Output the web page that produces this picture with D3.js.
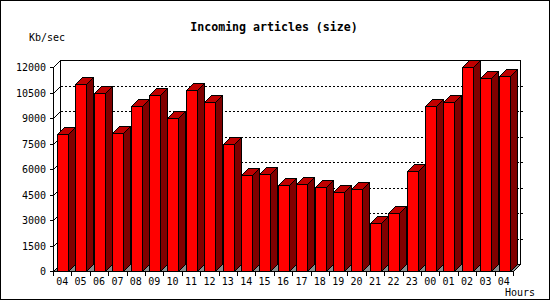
<!DOCTYPE html>
<html>
<head>
<meta charset="utf-8">
<script src="https://cdn.jsdelivr.net/npm/d3@7"></script>
<style>
    body { margin: 0; background: #fff; }
    text { font-family: 'DejaVu Sans Mono', monospace; fill: #000; }
</style>
</head>
<body>
<div id="chart"></div>
<script>
// Hours of the day (x categories)
const hours = ['04', '05', '06', '07', '08', '09', '10', '11', '12', '13', '14', '15', '16',
    '17', '18', '19', '20', '21', '22', '23', '00', '01', '02', '03', '04'];
// Incoming size in Kb/sec
const sizes = [8050, 11000, 10450, 8100, 9700, 10350, 9000, 10650, 9950, 7500, 5650, 5700, 5050,
    5100, 4950, 4650, 4800, 2850, 3400, 5900, 9700, 9950, 12000, 11350, 11500];
const yTicks = [0, 1500, 3000, 4500, 6000, 7500, 9000, 10500, 12000];

const width = 550;
const height = 300;
const plot = { left: 53, right: 513, top: 67, bottom: 271 }; // front face of the plot box
const depth = 7; // 3d offset, right and up

const svg = d3.select('#chart')
    .append('svg')
    .attr('width', width)
    .attr('height', height);

// outer frame
svg.append('rect')
    .attr('x', 0.5).attr('y', 0.5)
    .attr('width', width - 1).attr('height', height - 1)
    .attr('fill', '#fff')
    .attr('stroke', '#000')
    .attr('shape-rendering', 'crispEdges');

const x = d3.scaleBand()
    .domain(d3.range(hours.length))
    .range([plot.left, plot.right]);

const y = d3.scaleLinear()
    .domain([0, 12000])
    .range([plot.bottom, plot.top]);

const px = v => Math.round(v) + 0.5;

// back wall and right edge
const back = svg.append('g').attr('shape-rendering', 'crispEdges');
back.append('path')
    .attr('d', `M${px(plot.left + depth)},${px(plot.bottom - depth)}V${px(plot.top - depth)}H${px(plot.right + depth)}V${px(plot.bottom - depth)}`)
    .attr('fill', 'none')
    .attr('stroke', '#000');

// dotted grid lines on the back wall, diagonals on the left wall
yTicks.slice(1, -1).forEach(t => {
    back.append('line')
        .attr('x1', plot.left + depth + 1).attr('x2', plot.right + depth)
        .attr('y1', px(y(t) - depth)).attr('y2', px(y(t) - depth))
        .attr('stroke', '#000')
        .attr('stroke-dasharray', '2,2');
    back.append('line')
        .attr('x1', px(plot.right + depth)).attr('x2', plot.right + depth + 3)
        .attr('y1', px(y(t) - depth)).attr('y2', px(y(t) - depth))
        .attr('stroke', '#000');
});
yTicks.forEach(t => {
    svg.append('line')
        .attr('x1', px(plot.left)).attr('y1', px(y(t)))
        .attr('x2', px(plot.left + depth)).attr('y2', px(y(t) - depth))
        .attr('stroke', '#000')
        .attr('shape-rendering', 'crispEdges');
});

// floor
svg.append('path')
    .attr('d', `M${px(plot.left)},${px(plot.bottom)}H${px(plot.right)}L${px(plot.right + depth)},${px(plot.bottom - depth)}H${px(plot.left + depth)}Z`)
    .attr('fill', '#8c8c8c')
    .attr('stroke', '#000')
    .attr('shape-rendering', 'crispEdges');

// 3d bars
const barW = 11;
const bars = svg.append('g').attr('class', 'bars');
sizes.forEach((v, i) => {
    const x0 = Math.round(x(i) + 4);
    const x1 = x0 + barW;
    const yt = Math.round(y(v));
    const yb = plot.bottom;
    const g = bars.append('g').attr('stroke', '#000').attr('shape-rendering', 'crispEdges');
    // side face
    g.append('path')
        .attr('d', `M${x1 + 0.5},${yt + 0.5}L${x1 + depth + 0.5},${yt - depth + 0.5}V${yb - depth + 0.5}L${x1 + 0.5},${yb + 0.5}Z`)
        .attr('fill', '#800000');
    // top face
    g.append('path')
        .attr('d', `M${x0 + 0.5},${yt + 0.5}L${x0 + depth + 0.5},${yt - depth + 0.5}H${x1 + depth + 0.5}L${x1 + 0.5},${yt + 0.5}Z`)
        .attr('fill', '#c00000');
    // front face
    g.append('rect')
        .attr('x', x0 + 0.5).attr('y', yt + 0.5)
        .attr('width', barW).attr('height', yb - yt)
        .attr('fill', '#ff0000');
});

// front axes
const axes = svg.append('g').attr('stroke', '#000').attr('shape-rendering', 'crispEdges');
axes.append('line')
    .attr('x1', px(plot.left)).attr('x2', px(plot.left))
    .attr('y1', px(plot.top)).attr('y2', px(plot.bottom));
axes.append('line')
    .attr('x1', px(plot.left)).attr('x2', px(plot.right))
    .attr('y1', px(plot.bottom)).attr('y2', px(plot.bottom));

yTicks.forEach(t => {
    axes.append('line')
        .attr('x1', plot.left - 3).attr('x2', px(plot.left))
        .attr('y1', px(y(t))).attr('y2', px(y(t)));
    svg.append('text')
        .attr('x', 46)
        .attr('y', Math.round(y(t)))
        .attr('dy', '0.35em')
        .attr('font-size', '10px')
        .attr('text-anchor', 'end')
        .text(t);
});

d3.range(hours.length + 1).forEach(i => {
    const tx = px(plot.left + i * x.step());
    axes.append('line')
        .attr('x1', tx).attr('x2', tx)
        .attr('y1', px(plot.bottom)).attr('y2', plot.bottom + 5);
});

hours.forEach((h, i) => {
    svg.append('text')
        .attr('x', x(i) + x.bandwidth() / 2)
        .attr('y', 281)
        .attr('dy', '0.35em')
        .attr('font-size', '10px')
        .attr('text-anchor', 'middle')
        .text(h);
});

// titles
svg.append('text')
    .attr('x', 274)
    .attr('y', 27)
    .attr('dy', '0.35em')
    .attr('font-size', '11.6px')
    .attr('font-weight', 'bold')
    .attr('text-anchor', 'middle')
    .text('Incoming articles (size)');

svg.append('text')
    .attr('x', 29)
    .attr('y', 37)
    .attr('dy', '0.35em')
    .attr('font-size', '10px')
    .text('Kb/sec');

svg.append('text')
    .attr('x', 535)
    .attr('y', 292)
    .attr('dy', '0.35em')
    .attr('font-size', '10px')
    .attr('text-anchor', 'end')
    .text('Hours');
</script>
</body>
</html>
